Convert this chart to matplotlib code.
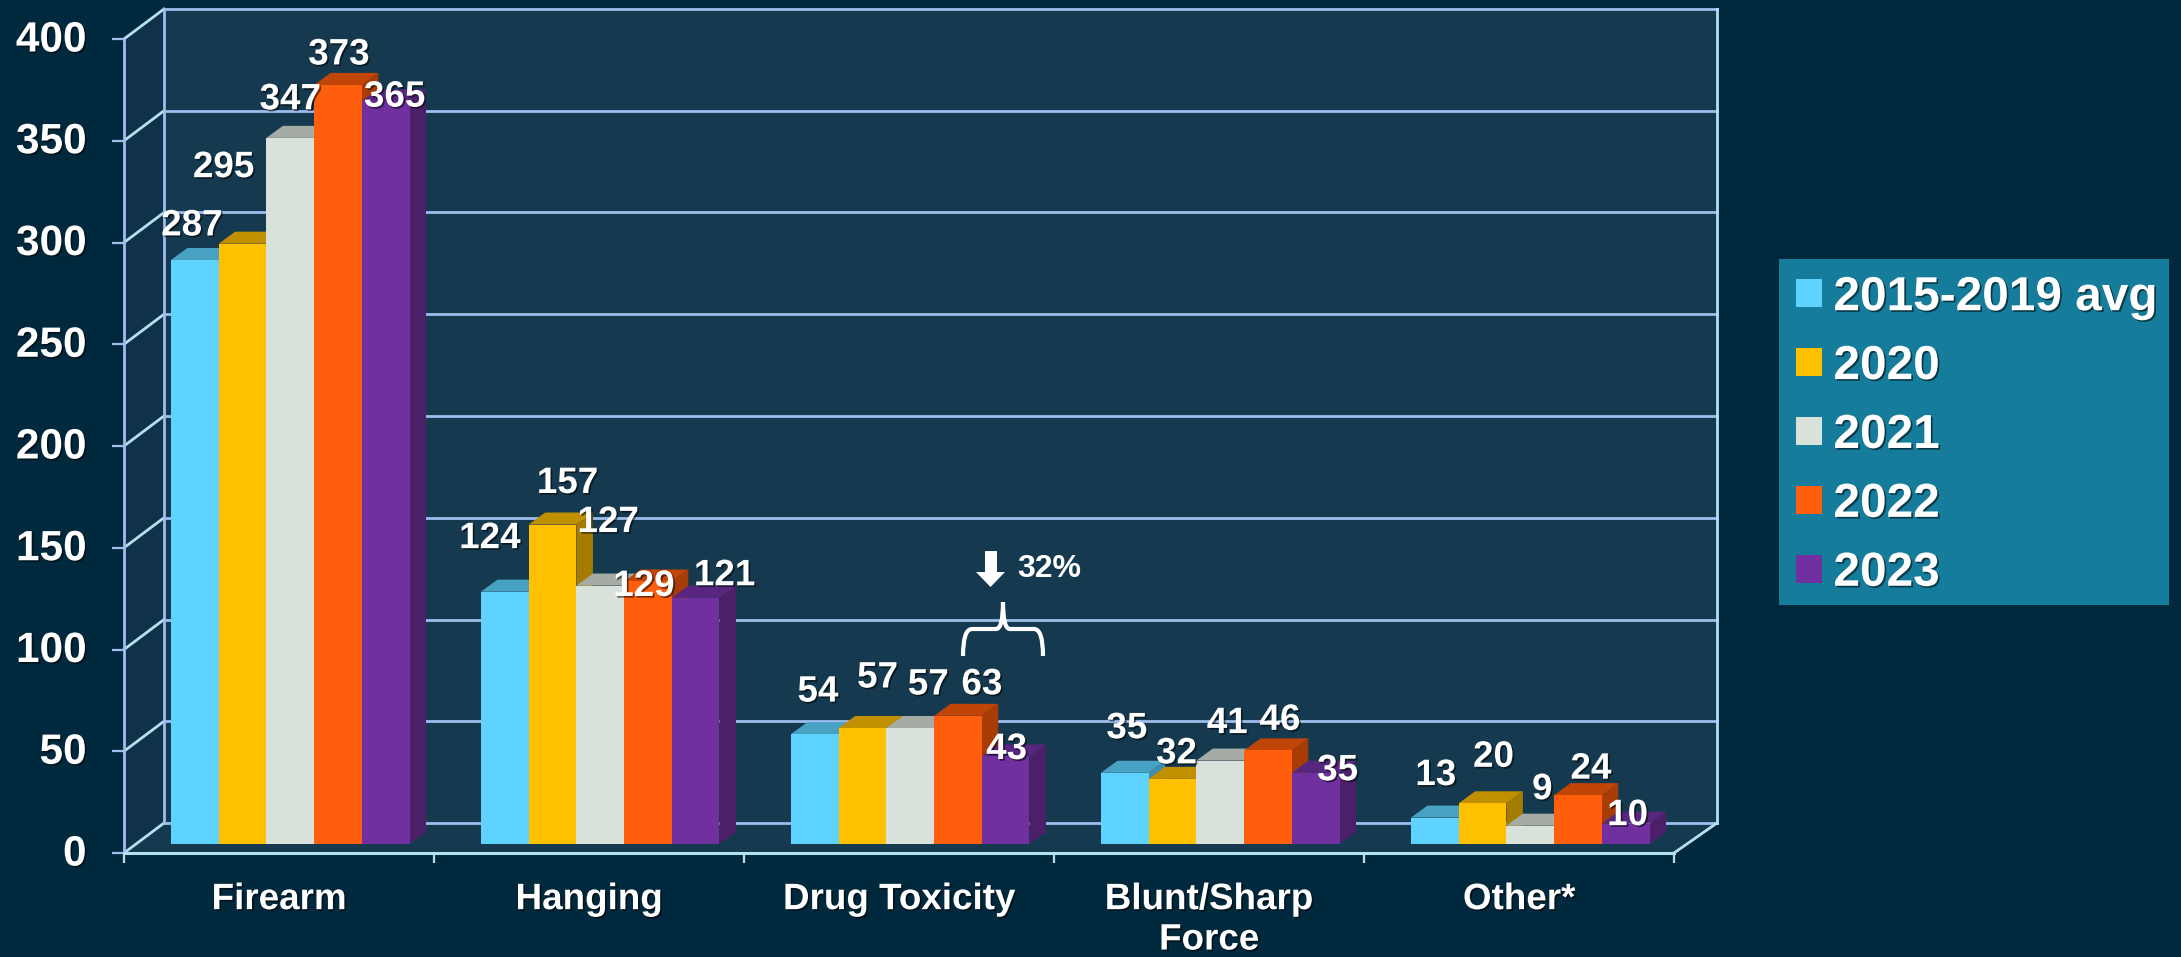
import numpy as np
from matplotlib import pyplot as plt
from matplotlib import patheffects as pe
from matplotlib.patches import Patch, PathPatch, Polygon, Rectangle
from matplotlib.path import Path
from matplotlib.transforms import Affine2D

plt.rcParams['font.family'] = ['Liberation Sans', 'DejaVu Sans']
plt.rcParams['font.weight'] = 'bold'

# Data
categories = ['Firearm', 'Hanging', 'Drug Toxicity', 'Blunt/Sharp\nForce', 'Other*']
series_names = ['2015-2019 avg', '2020', '2021', '2022', '2023']
avg_2015_2019 = [287, 124, 54, 35, 13]
y2020 = [295, 157, 57, 32, 20]
y2021 = [347, 127, 57, 41, 9]
y2022 = [373, 129, 63, 46, 24]
y2023 = [365, 121, 43, 35, 10]
series = [avg_2015_2019, y2020, y2021, y2022, y2023]
y_ticks = [0, 50, 100, 150, 200, 250, 300, 350, 400]
drop_label = '32%'

# Colours: front, top, side
fronts = ['#5fd3ff', '#ffc000', '#d8e2db', '#ff5f0d', '#7030a0']
tops = ['#48a2c4', '#c09000', '#a5aca5', '#c04506', '#57267f']
sides = ['#3f8eac', '#a47c00', '#8f958f', '#a83c05', '#4b2068']
bg = '#01293d'
wall = '#153a50'
side_wall = '#0f3249'
grid_col = '#a0bdee'
edge_col = '#b5e0f2'

# Label nudges in pixels from the top centre of each bar (by series, then category)
nudges = [
    [(-3, 34), (-15, 53), (3, 42), (2, 44), (1, 42)],
    [(-19, 76), (15, 41), (15, 50), (4, 25), (11, 46)],
    [(0, 38), (8, 63), (18, 43), (7, 37), (12, 36)],
    [(1, 30), (-4, -5), (24, 31), (12, 30), (13, 26)],
    [(9, 4), (29, 22), (1, 7), (22, 2), (2, 8)],
]

W, H = 2181, 957
fig = plt.figure(figsize=(W / 100, H / 100), dpi=100, facecolor=bg)
ax = fig.add_axes([124 / W, 1 - 853 / H, 1550 / W, 814 / H])
ax.set_xlim(0, 5)
ax.set_ylim(0, 400)
ax.patch.set_visible(False)

# reference pixels -> figure, for the free-floating annotation
px = Affine2D().scale(1 / W, -1 / H).translate(0, 1) + fig.transFigure

# pseudo 3D sizes in data units
wall_dx = 43 / 310
wall_dy = 30 / 2.035
bar_dx = 16.5 / 310
bar_dy = 12 / 2.035
bar_w = 47.7 / 310
bar_start = 47 / 310
lift = 9 / 2.035
top_y = 400 + 16 / 2.035

# Walls and floor
back_x = wall_dx * 40 / 43
ax.add_patch(Polygon([(0, 0), (back_x, wall_dy), (back_x, top_y + wall_dy - 8), (0, 400)],
                     fc=side_wall, ec='none', clip_on=False, zorder=0))
ax.add_patch(Polygon([(back_x, wall_dy), (5 + wall_dx, wall_dy), (5 + wall_dx, top_y + wall_dy - 8),
                      (back_x, top_y + wall_dy - 8)],
                     fc=wall, ec='none', clip_on=False, zorder=0))
ax.add_patch(Polygon([(0, 0), (back_x, wall_dy), (5 + wall_dx, wall_dy), (5, 0)],
                     fc=wall, ec='none', clip_on=False, zorder=0))

# Gridlines round the walls
for t in y_ticks:
    ax.plot([back_x, 5 + wall_dx], [t + wall_dy, t + wall_dy], color=grid_col, lw=2, clip_on=False, zorder=1)
    ax.plot([0, back_x], [t, t + wall_dy], color=edge_col, lw=2, clip_on=False, zorder=1)
ax.plot([back_x, back_x], [wall_dy, 400 + wall_dy], color=grid_col, lw=2, clip_on=False, zorder=1)
ax.plot([5 + wall_dx, 5 + wall_dx], [wall_dy, 400 + wall_dy], color=edge_col, lw=2, clip_on=False, zorder=1)
ax.plot([5, 5 + wall_dx], [0, wall_dy], color=edge_col, lw=2, clip_on=False, zorder=1)

# Bars, left to right
z = 2
for c in range(len(categories)):
    for s in range(len(series)):
        v = series[s][c]
        x0 = c + bar_start + s * bar_w
        y1 = v + lift
        ax.add_patch(Polygon([(x0 + bar_w, lift), (x0 + bar_w + bar_dx, lift + bar_dy),
                              (x0 + bar_w + bar_dx, y1 + bar_dy), (x0 + bar_w, y1)],
                             fc=sides[s], ec='none', zorder=z))
        ax.add_patch(Polygon([(x0, y1), (x0 + bar_dx, y1 + bar_dy), (x0 + bar_w + bar_dx, y1 + bar_dy),
                              (x0 + bar_w, y1)], fc=tops[s], ec='none', zorder=z))
        ax.bar(x0, v, bar_w, bottom=lift, align='edge', color=fronts[s], lw=0, zorder=z + 0.5)
        z += 1

# Value labels
shadow = [pe.withSimplePatchShadow(offset=(1.2, -1.2), shadow_rgbFace='#000000', alpha=0.55)]
for s in range(len(series)):
    for c in range(len(categories)):
        v = series[s][c]
        xc = c + bar_start + (s + 0.5) * bar_w
        ax.annotate(str(v), (xc, v + lift), xytext=nudges[s][c], textcoords='offset pixels',
                    ha='center', va='center', fontsize=26.5, color='white', zorder=100,
                    annotation_clip=False, path_effects=shadow)

# Axes
for name in ['top', 'right']:
    ax.spines[name].set_visible(False)
ax.spines['left'].set_color(grid_col)
ax.spines['bottom'].set_color(edge_col)
ax.spines['left'].set_linewidth(2)
ax.spines['bottom'].set_linewidth(2.2)
ax.set_yticks(y_ticks)
ax.set_yticklabels([str(t) for t in y_ticks], fontsize=30.5, color='white', path_effects=shadow)
ax.tick_params(axis='y', length=9, width=1.6, color=grid_col, pad=18)
for lab in ax.get_yticklabels():
    lab.set_transform(lab.get_transform() + Affine2D().translate(0, 3))
ax.set_xticks(range(6))
ax.set_xticklabels([])
ax.tick_params(axis='x', which='major', length=7.5, width=1.6, color=edge_col)
ax.set_xticks(np.arange(len(categories)) + 0.5, minor=True)
ax.set_xticklabels(categories, minor=True, fontsize=26.5, color='white', path_effects=shadow, linespacing=1.2)
ax.tick_params(axis='x', which='minor', length=0, pad=21)

# Arrow, percentage and brace over the drug toxicity bars
fig.add_artist(Polygon([(985, 551), (997, 551), (997, 572), (1005, 572), (990.5, 587), (976, 572), (985, 572)],
                       closed=True, fc='white', ec='none', transform=px))
fig.text(1017, 569, drop_label, transform=px, ha='left', va='center', fontsize=23, color='white')
brace = Path([(963, 656), (963, 629), (972, 629), (972, 629), (996, 629), (1003, 629), (1003, 602),
              (1003, 629), (1010, 629), (1034, 629), (1043, 629), (1043, 656)],
             [Path.MOVETO, Path.CURVE3, Path.CURVE3, Path.MOVETO, Path.LINETO, Path.CURVE3, Path.CURVE3,
              Path.CURVE3, Path.CURVE3, Path.LINETO, Path.CURVE3, Path.CURVE3])
fig.add_artist(PathPatch(brace, fc='none', ec='white', lw=3, transform=px))

# Legend, its box is drawn separately so the padding can be uneven
fig.add_artist(Rectangle((1779, 259), 390, 346, fc='#167c9c', ec='none', transform=px, zorder=5))
handles = [Patch(fc=fronts[i], ec='none', label=series_names[i]) for i in range(len(series_names))]
leg = fig.legend(handles=handles, loc='upper left', bbox_to_anchor=(1779 / W, 1 - 258 / H),
                 bbox_transform=fig.transFigure, fontsize=34.4, frameon=False, borderpad=0.36, borderaxespad=0,
                 handlelength=0.53, handleheight=0.53, handletextpad=0.25, labelspacing=0.5)
leg.set_zorder(6)
for t in leg.get_texts():
    t.set_color('white')
    t.set_path_effects(shadow)

fig.savefig('out.png', dpi=100, facecolor=bg)
